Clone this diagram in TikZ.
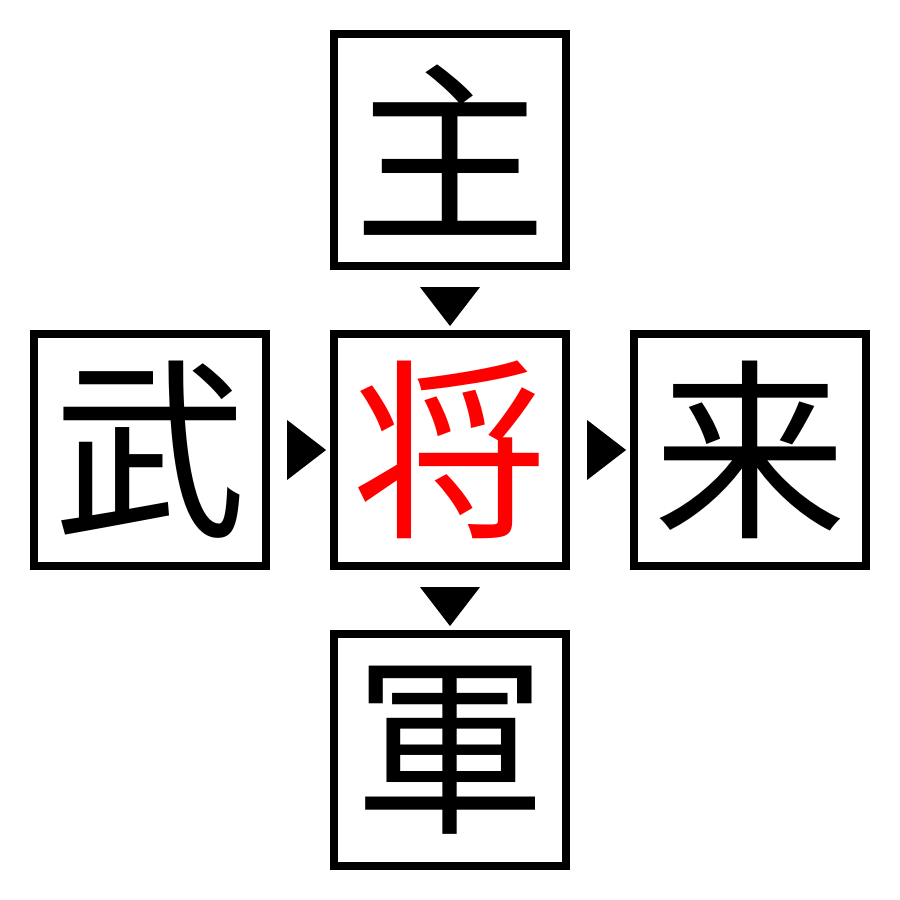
\documentclass[tikz,border=0pt]{standalone}
\usepackage{fontspec}
\newfontfamily\cjk{Noto Sans CJK JP}
\usetikzlibrary{calc}
\begin{document}
\begin{tikzpicture}[x=0.01cm,y=0.01cm,
  charbox/.style={draw=black,line width=0.08cm,minimum size=2.32cm,inner sep=0pt,
    font=\cjk\fontsize{55pt}{55pt}\selectfont},
  tri/.style={fill=black}]
\fill[white] (0,0) rectangle (900,900);
\useasboundingbox (0,0) rectangle (900,900);
\node[charbox] (top) at (450,750) {主};
\node[charbox] (left) at (150,450) {武};
\node[charbox,text=red] (mid) at (450,450) {将};
\node[charbox] (right) at (750,450) {来};
\node[charbox] (bot) at (450,150) {軍};
% down triangles
\fill[tri] ($(top.south)+(-30,-17)$) -- ($(top.south)+(30,-17)$) -- ($(top.south)+(0,-56)$) -- cycle;
\fill[tri] ($(mid.south)+(-30,-17)$) -- ($(mid.south)+(30,-17)$) -- ($(mid.south)+(0,-56)$) -- cycle;
% right triangles
\fill[tri] ($(left.east)+(17,30)$) -- ($(left.east)+(17,-30)$) -- ($(left.east)+(56,0)$) -- cycle;
\fill[tri] ($(mid.east)+(17,30)$) -- ($(mid.east)+(17,-30)$) -- ($(mid.east)+(56,0)$) -- cycle;
\end{tikzpicture}
\end{document}
